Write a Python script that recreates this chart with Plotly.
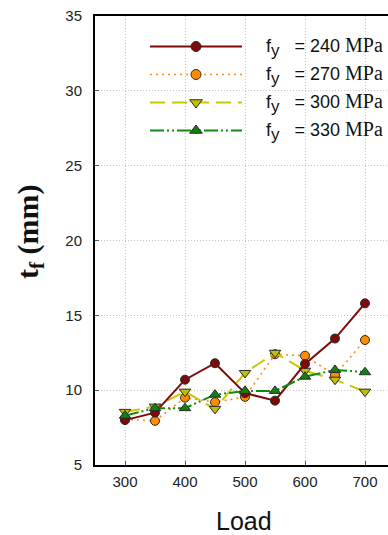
import plotly.graph_objects as go

loads = [300, 350, 400, 450, 500, 550, 600, 650, 700]
tf_240 = [8.0, 8.5, 10.7, 11.8, 9.8, 9.3, 11.75, 13.45, 15.8]
tf_270 = [8.05, 7.95, 9.5, 9.2, 9.55, 12.4, 12.3, 11.0, 13.35]
tf_300 = [8.55, 8.9, 9.9, 8.75, 11.15, 12.5, 11.3, 10.7, 9.9]
tf_330 = [8.3, 8.8, 8.8, 9.7, 9.95, 9.95, 10.9, 11.35, 11.2]

x_ticks = [300, 400, 500, 600, 700]
y_ticks = [5, 10, 15, 20, 25, 30, 35]
legend_labels = ["240", "270", "300", "330"]

W, H = 388, 535
ML, MR, MT, MB = 95, 0, 16, 70

styles = {
    "240": dict(color="#7d0a0a", dash="solid", width=2, symbol="circle", size=9, mcolor="#7d0a0a"),
    "270": dict(color="#ff8c1a", dash="2px,4px", width=1.6, symbol="circle", size=9, mcolor="#ff8c00"),
    "300": dict(color="#c8c800", dash="15px,7px", width=2, symbol="triangle-down", size=10, mcolor="#c0c000"),
    "330": dict(color="#128a12", dash="14px,3px,2px,3px,2px,3px", width=2, symbol="triangle-up", size=10, mcolor="#108010"),
}
series = {"240": tf_240, "270": tf_270, "300": tf_300, "330": tf_330}

fig = go.Figure()
for key in ["270", "300", "240", "330"]:
    s = styles[key]
    fig.add_trace(go.Scatter(
        x=loads, y=series[key], mode="lines+markers", showlegend=False,
        line=dict(color=s["color"], dash=s["dash"], width=s["width"]),
        marker=dict(symbol=s["symbol"], size=s["size"], color=s["mcolor"],
                    line=dict(color="#2a2a2a", width=1)),
    ))

# custom legend drawn on a pixel-unit overlay axis
rows = [46.5, 74.5, 102.5, 130.5]
for key, ry in zip(legend_labels, rows):
    s = styles[key]
    fig.add_trace(go.Scatter(
        x=[150, 242], y=[ry, ry], mode="lines", showlegend=False, xaxis="x2", yaxis="y2",
        line=dict(color=s["color"], dash=s["dash"], width=s["width"]),
    ))
    fig.add_trace(go.Scatter(
        x=[196], y=[ry], mode="markers", showlegend=False, xaxis="x2", yaxis="y2",
        marker=dict(symbol=s["symbol"], size=s["size"] + 1, color=s["mcolor"],
                    line=dict(color="#2a2a2a", width=1)),
    ))
    fig.add_annotation(
        x=264, y=ry, xref="x2", yref="y2", xanchor="left", yanchor="middle",
        showarrow=False,
        text=("f<sub><span style='font-size:17px'>y</span></sub>&nbsp;&nbsp;&nbsp;= " + key +
              " <span style='font-family:Liberation Serif;font-size:20px'>MPa</span>"),
        font=dict(family="Liberation Sans", size=18, color="#111111"),
    )

fig.add_annotation(
    x=(30 - ML) / (W - ML - MR), y=(H - MB - 232) / (H - MT - MB),
    xref="paper", yref="paper", showarrow=False, textangle=-90,
    xanchor="center", yanchor="middle",
    text="<b>t<sub>f</sub> (mm)</b>",
    font=dict(family="Liberation Serif", size=30, color="#111111"),
)
fig.add_annotation(
    x=(244 - ML) / (W - ML - MR), y=(H - MB - 521) / (H - MT - MB),
    xref="paper", yref="paper", showarrow=False,
    xanchor="center", yanchor="middle",
    text="Load",
    font=dict(family="Liberation Sans", size=25, color="#111111"),
)

fig.update_layout(
    width=W, height=H,
    margin=dict(l=ML, r=MR, t=MT, b=MB),
    paper_bgcolor="white", plot_bgcolor="white",
    font=dict(family="Liberation Sans", size=15, color="#222222"),
    xaxis=dict(
        range=[250, 250 + (W - ML - MR) / 0.6], tickvals=x_ticks,
        showgrid=True, gridcolor="#c4c4c4", griddash="1px,2px", gridwidth=1,
        showline=True, linecolor="black", linewidth=2, mirror=True,
        ticks="inside", ticklen=4, tickcolor="#555555",
        ticklabelstandoff=2, zeroline=False,
    ),
    yaxis=dict(
        range=[5, 35], tickvals=y_ticks,
        showgrid=True, gridcolor="#c4c4c4", griddash="1px,2px", gridwidth=1,
        showline=True, linecolor="black", linewidth=2, mirror=False,
        ticks="inside", ticklen=4, tickcolor="#555555",
        ticklabelstandoff=8, zeroline=False,
    ),
    xaxis2=dict(overlaying="x", range=[ML, W - MR], visible=False),
    yaxis2=dict(overlaying="y", range=[H - MB, MT], visible=False),
)

fig.write_html("out.html")
